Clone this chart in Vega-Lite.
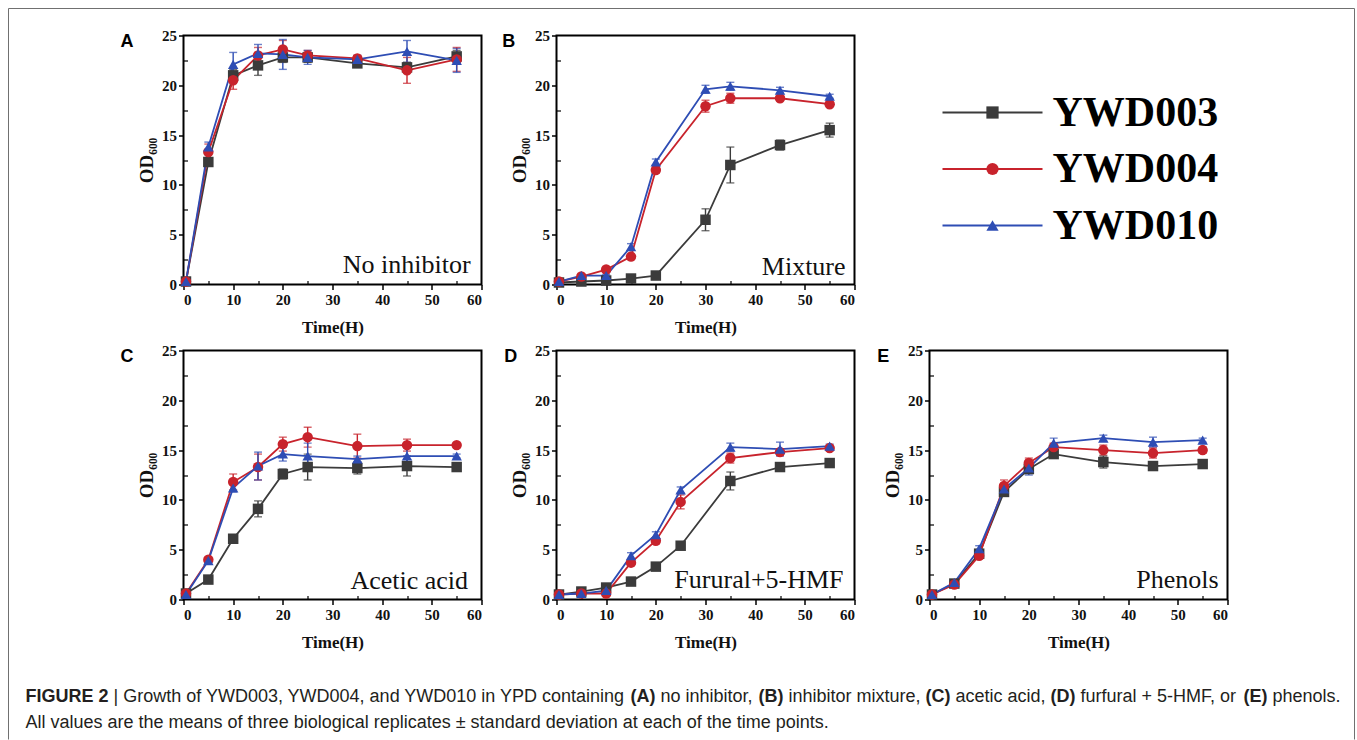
{
  "$schema": "https://vega.github.io/schema/vega-lite/v6.json",
  "padding": {"left": 7.5, "top": 7.5, "right": 0, "bottom": 0},
  "background": "#ffffff",
  "datasets": {
    "growth": [
      {"panel":"A","strain":"YWD003","t":0.5,"od":0.3,"sd":0.1},
      {"panel":"A","strain":"YWD003","t":5,"od":12.3,"sd":0.3},
      {"panel":"A","strain":"YWD003","t":10,"od":21.0,"sd":0.6},
      {"panel":"A","strain":"YWD003","t":15,"od":22.0,"sd":1.0},
      {"panel":"A","strain":"YWD003","t":20,"od":22.8,"sd":0.5},
      {"panel":"A","strain":"YWD003","t":25,"od":22.8,"sd":0.5},
      {"panel":"A","strain":"YWD003","t":35,"od":22.2,"sd":0.3},
      {"panel":"A","strain":"YWD003","t":45,"od":21.8,"sd":0.5},
      {"panel":"A","strain":"YWD003","t":55,"od":22.9,"sd":0.6},
      {"panel":"A","strain":"YWD004","t":0.5,"od":0.3,"sd":0.1},
      {"panel":"A","strain":"YWD004","t":5,"od":13.3,"sd":0.8},
      {"panel":"A","strain":"YWD004","t":10,"od":20.5,"sd":0.9},
      {"panel":"A","strain":"YWD004","t":15,"od":23.0,"sd":0.8},
      {"panel":"A","strain":"YWD004","t":20,"od":23.6,"sd":0.9},
      {"panel":"A","strain":"YWD004","t":25,"od":23.0,"sd":0.5},
      {"panel":"A","strain":"YWD004","t":35,"od":22.7,"sd":0.3},
      {"panel":"A","strain":"YWD004","t":45,"od":21.5,"sd":1.3},
      {"panel":"A","strain":"YWD004","t":55,"od":22.6,"sd":1.2},
      {"panel":"A","strain":"YWD010","t":0.5,"od":0.3,"sd":0.1},
      {"panel":"A","strain":"YWD010","t":5,"od":13.8,"sd":0.5},
      {"panel":"A","strain":"YWD010","t":10,"od":22.1,"sd":1.2},
      {"panel":"A","strain":"YWD010","t":15,"od":23.2,"sd":0.9},
      {"panel":"A","strain":"YWD010","t":20,"od":23.1,"sd":1.5},
      {"panel":"A","strain":"YWD010","t":25,"od":22.8,"sd":0.7},
      {"panel":"A","strain":"YWD010","t":35,"od":22.6,"sd":0.4},
      {"panel":"A","strain":"YWD010","t":45,"od":23.4,"sd":1.1},
      {"panel":"A","strain":"YWD010","t":55,"od":22.5,"sd":1.2},

      {"panel":"B","strain":"YWD003","t":0.5,"od":0.2,"sd":0.05},
      {"panel":"B","strain":"YWD003","t":5,"od":0.3,"sd":0.1},
      {"panel":"B","strain":"YWD003","t":10,"od":0.4,"sd":0.1},
      {"panel":"B","strain":"YWD003","t":15,"od":0.6,"sd":0.1},
      {"panel":"B","strain":"YWD003","t":20,"od":0.9,"sd":0.1},
      {"panel":"B","strain":"YWD003","t":30,"od":6.5,"sd":1.1},
      {"panel":"B","strain":"YWD003","t":35,"od":12.0,"sd":1.8},
      {"panel":"B","strain":"YWD003","t":45,"od":14.0,"sd":0.5},
      {"panel":"B","strain":"YWD003","t":55,"od":15.5,"sd":0.7},
      {"panel":"B","strain":"YWD004","t":0.5,"od":0.3,"sd":0.1},
      {"panel":"B","strain":"YWD004","t":5,"od":0.8,"sd":0.1},
      {"panel":"B","strain":"YWD004","t":10,"od":1.5,"sd":0.1},
      {"panel":"B","strain":"YWD004","t":15,"od":2.8,"sd":0.2},
      {"panel":"B","strain":"YWD004","t":20,"od":11.5,"sd":0.3},
      {"panel":"B","strain":"YWD004","t":30,"od":17.9,"sd":0.6},
      {"panel":"B","strain":"YWD004","t":35,"od":18.7,"sd":0.5},
      {"panel":"B","strain":"YWD004","t":45,"od":18.7,"sd":0.2},
      {"panel":"B","strain":"YWD004","t":55,"od":18.1,"sd":0.2},
      {"panel":"B","strain":"YWD010","t":0.5,"od":0.3,"sd":0.1},
      {"panel":"B","strain":"YWD010","t":5,"od":0.9,"sd":0.1},
      {"panel":"B","strain":"YWD010","t":10,"od":0.9,"sd":0.1},
      {"panel":"B","strain":"YWD010","t":15,"od":3.8,"sd":0.3},
      {"panel":"B","strain":"YWD010","t":20,"od":12.3,"sd":0.3},
      {"panel":"B","strain":"YWD010","t":30,"od":19.6,"sd":0.4},
      {"panel":"B","strain":"YWD010","t":35,"od":19.9,"sd":0.4},
      {"panel":"B","strain":"YWD010","t":45,"od":19.5,"sd":0.3},
      {"panel":"B","strain":"YWD010","t":55,"od":18.9,"sd":0.2},

      {"panel":"C","strain":"YWD003","t":0.5,"od":0.6,"sd":0.1},
      {"panel":"C","strain":"YWD003","t":5,"od":2.0,"sd":0.2},
      {"panel":"C","strain":"YWD003","t":10,"od":6.1,"sd":0.3},
      {"panel":"C","strain":"YWD003","t":15,"od":9.1,"sd":0.8},
      {"panel":"C","strain":"YWD003","t":20,"od":12.6,"sd":0.5},
      {"panel":"C","strain":"YWD003","t":25,"od":13.3,"sd":1.3},
      {"panel":"C","strain":"YWD003","t":35,"od":13.2,"sd":0.6},
      {"panel":"C","strain":"YWD003","t":45,"od":13.4,"sd":1.0},
      {"panel":"C","strain":"YWD003","t":55,"od":13.3,"sd":0.4},
      {"panel":"C","strain":"YWD004","t":0.5,"od":0.6,"sd":0.1},
      {"panel":"C","strain":"YWD004","t":5,"od":4.0,"sd":0.2},
      {"panel":"C","strain":"YWD004","t":10,"od":11.8,"sd":0.8},
      {"panel":"C","strain":"YWD004","t":15,"od":13.3,"sd":1.3},
      {"panel":"C","strain":"YWD004","t":20,"od":15.6,"sd":0.7},
      {"panel":"C","strain":"YWD004","t":25,"od":16.3,"sd":1.0},
      {"panel":"C","strain":"YWD004","t":35,"od":15.4,"sd":1.2},
      {"panel":"C","strain":"YWD004","t":45,"od":15.5,"sd":0.6},
      {"panel":"C","strain":"YWD004","t":55,"od":15.5,"sd":0.2},
      {"panel":"C","strain":"YWD010","t":0.5,"od":0.5,"sd":0.1},
      {"panel":"C","strain":"YWD010","t":5,"od":3.9,"sd":0.2},
      {"panel":"C","strain":"YWD010","t":10,"od":11.2,"sd":0.4},
      {"panel":"C","strain":"YWD010","t":15,"od":13.4,"sd":1.4},
      {"panel":"C","strain":"YWD010","t":20,"od":14.6,"sd":0.7},
      {"panel":"C","strain":"YWD010","t":25,"od":14.4,"sd":1.3},
      {"panel":"C","strain":"YWD010","t":35,"od":14.1,"sd":0.3},
      {"panel":"C","strain":"YWD010","t":45,"od":14.4,"sd":0.9},
      {"panel":"C","strain":"YWD010","t":55,"od":14.4,"sd":0.2},

      {"panel":"D","strain":"YWD003","t":0.5,"od":0.5,"sd":0.1},
      {"panel":"D","strain":"YWD003","t":5,"od":0.8,"sd":0.1},
      {"panel":"D","strain":"YWD003","t":10,"od":1.2,"sd":0.1},
      {"panel":"D","strain":"YWD003","t":15,"od":1.8,"sd":0.2},
      {"panel":"D","strain":"YWD003","t":20,"od":3.3,"sd":0.3},
      {"panel":"D","strain":"YWD003","t":25,"od":5.4,"sd":0.3},
      {"panel":"D","strain":"YWD003","t":35,"od":11.9,"sd":0.9},
      {"panel":"D","strain":"YWD003","t":45,"od":13.3,"sd":0.3},
      {"panel":"D","strain":"YWD003","t":55,"od":13.7,"sd":0.2},
      {"panel":"D","strain":"YWD004","t":0.5,"od":0.5,"sd":0.1},
      {"panel":"D","strain":"YWD004","t":5,"od":0.6,"sd":0.1},
      {"panel":"D","strain":"YWD004","t":10,"od":0.6,"sd":0.1},
      {"panel":"D","strain":"YWD004","t":15,"od":3.7,"sd":0.3},
      {"panel":"D","strain":"YWD004","t":20,"od":5.9,"sd":0.3},
      {"panel":"D","strain":"YWD004","t":25,"od":9.8,"sd":0.7},
      {"panel":"D","strain":"YWD004","t":35,"od":14.2,"sd":0.5},
      {"panel":"D","strain":"YWD004","t":45,"od":14.8,"sd":0.3},
      {"panel":"D","strain":"YWD004","t":55,"od":15.2,"sd":0.2},
      {"panel":"D","strain":"YWD010","t":0.5,"od":0.5,"sd":0.1},
      {"panel":"D","strain":"YWD010","t":5,"od":0.6,"sd":0.1},
      {"panel":"D","strain":"YWD010","t":10,"od":0.9,"sd":0.1},
      {"panel":"D","strain":"YWD010","t":15,"od":4.4,"sd":0.3},
      {"panel":"D","strain":"YWD010","t":20,"od":6.5,"sd":0.3},
      {"panel":"D","strain":"YWD010","t":25,"od":11.0,"sd":0.3},
      {"panel":"D","strain":"YWD010","t":35,"od":15.3,"sd":0.4},
      {"panel":"D","strain":"YWD010","t":45,"od":15.1,"sd":0.7},
      {"panel":"D","strain":"YWD010","t":55,"od":15.4,"sd":0.2},

      {"panel":"E","strain":"YWD003","t":0.5,"od":0.5,"sd":0.1},
      {"panel":"E","strain":"YWD003","t":5,"od":1.6,"sd":0.1},
      {"panel":"E","strain":"YWD003","t":10,"od":4.6,"sd":0.3},
      {"panel":"E","strain":"YWD003","t":15,"od":10.8,"sd":0.3},
      {"panel":"E","strain":"YWD003","t":20,"od":13.1,"sd":0.4},
      {"panel":"E","strain":"YWD003","t":25,"od":14.6,"sd":0.3},
      {"panel":"E","strain":"YWD003","t":35,"od":13.8,"sd":0.6},
      {"panel":"E","strain":"YWD003","t":45,"od":13.4,"sd":0.4},
      {"panel":"E","strain":"YWD003","t":55,"od":13.6,"sd":0.2},
      {"panel":"E","strain":"YWD004","t":0.5,"od":0.5,"sd":0.1},
      {"panel":"E","strain":"YWD004","t":5,"od":1.5,"sd":0.1},
      {"panel":"E","strain":"YWD004","t":10,"od":4.4,"sd":0.3},
      {"panel":"E","strain":"YWD004","t":15,"od":11.4,"sd":0.6},
      {"panel":"E","strain":"YWD004","t":20,"od":13.7,"sd":0.5},
      {"panel":"E","strain":"YWD004","t":25,"od":15.3,"sd":0.4},
      {"panel":"E","strain":"YWD004","t":35,"od":15.0,"sd":0.5},
      {"panel":"E","strain":"YWD004","t":45,"od":14.7,"sd":0.5},
      {"panel":"E","strain":"YWD004","t":55,"od":15.0,"sd":0.3},
      {"panel":"E","strain":"YWD010","t":0.5,"od":0.5,"sd":0.1},
      {"panel":"E","strain":"YWD010","t":5,"od":1.7,"sd":0.2},
      {"panel":"E","strain":"YWD010","t":10,"od":5.1,"sd":0.3},
      {"panel":"E","strain":"YWD010","t":15,"od":11.1,"sd":0.3},
      {"panel":"E","strain":"YWD010","t":20,"od":13.2,"sd":0.7},
      {"panel":"E","strain":"YWD010","t":25,"od":15.7,"sd":0.5},
      {"panel":"E","strain":"YWD010","t":35,"od":16.2,"sd":0.3},
      {"panel":"E","strain":"YWD010","t":45,"od":15.8,"sd":0.5},
      {"panel":"E","strain":"YWD010","t":55,"od":16.0,"sd":0.2}
    ]
  },
  "columns": 3,
  "bounds": "flush",
  "spacing": {"column": 75, "row": 66},
  "resolve": {"scale": {"x": "independent", "y": "independent"}},
  "concat": [
    {
      "width": 298, "height": 249,
      "resolve": {"axis": {"x": "independent", "y": "independent"}},
      "layer": [
        {
          "data": {"name": "growth"}, "transform": [{"filter": "datum.panel === 'A'"}],
          "encoding": {
            "x": {"field": "t", "type": "quantitative", "scale": {"domain": [0, 60], "nice": false}, "axis": {"orient": "bottom"}, "title": "Time(H)"},
            "y": {"field": "od", "type": "quantitative", "scale": {"domain": [0, 25], "nice": false}, "axis": {"orient": "left"}, "title": "OD₆₀₀"},
            "color": {"field": "strain", "type": "nominal"}
          },
          "layer": [
            {"mark": {"type": "errorbar", "ticks": {"size": 8}, "thickness": 1.4}, "encoding": {"yError": {"field": "sd"}}},
            {"mark": {"type": "line", "strokeWidth": 1.8}},
            {"mark": {"type": "point", "filled": true, "opacity": 1, "size": 110}, "encoding": {"shape": {"field": "strain", "type": "nominal"}}}
          ]
        },
        {"data": {"values": [{}]}, "mark": {"type": "point", "opacity": 0}, "encoding": {"x": {"datum": 0, "type": "quantitative", "axis": {"orient": "bottom", "values": [5, 15, 25, 35, 45, 55], "labels": false, "title": null, "tickSize": -4, "tickWidth": 1.2}}, "y": {"datum": 0, "type": "quantitative", "axis": {"orient": "left", "values": [2.5, 7.5, 12.5, 17.5, 22.5], "labels": false, "title": null, "tickSize": -4, "tickWidth": 1.2}}}},
        {"data": {"values": [{}]}, "mark": {"type": "text", "align": "right", "baseline": "alphabetic", "font": "Liberation Serif", "fontSize": 26, "color": "#111111"}, "encoding": {"x": {"datum": 57.8, "type": "quantitative", "axis": null}, "y": {"datum": 1.2, "type": "quantitative", "axis": null}, "text": {"value": "No inhibitor"}}},
        {"data": {"values": [{}]}, "mark": {"type": "text", "align": "left", "baseline": "alphabetic", "font": "Liberation Sans", "fontWeight": "bold", "fontSize": 18, "color": "#000000"}, "encoding": {"x": {"datum": -12.7, "type": "quantitative", "axis": null}, "y": {"datum": 23.8, "type": "quantitative", "axis": null}, "text": {"value": "A"}}}
      ]
    },
    {
      "width": 298, "height": 249,
      "resolve": {"axis": {"x": "independent", "y": "independent"}},
      "layer": [
        {
          "data": {"name": "growth"}, "transform": [{"filter": "datum.panel === 'B'"}],
          "encoding": {
            "x": {"field": "t", "type": "quantitative", "scale": {"domain": [0, 60], "nice": false}, "axis": {"orient": "bottom"}, "title": "Time(H)"},
            "y": {"field": "od", "type": "quantitative", "scale": {"domain": [0, 25], "nice": false}, "axis": {"orient": "left"}, "title": "OD₆₀₀"},
            "color": {"field": "strain", "type": "nominal"}
          },
          "layer": [
            {"mark": {"type": "errorbar", "ticks": {"size": 8}, "thickness": 1.4}, "encoding": {"yError": {"field": "sd"}}},
            {"mark": {"type": "line", "strokeWidth": 1.8}},
            {"mark": {"type": "point", "filled": true, "opacity": 1, "size": 110}, "encoding": {"shape": {"field": "strain", "type": "nominal"}}}
          ]
        },
        {"data": {"values": [{}]}, "mark": {"type": "point", "opacity": 0}, "encoding": {"x": {"datum": 0, "type": "quantitative", "axis": {"orient": "bottom", "values": [5, 15, 25, 35, 45, 55], "labels": false, "title": null, "tickSize": -4, "tickWidth": 1.2}}, "y": {"datum": 0, "type": "quantitative", "axis": {"orient": "left", "values": [2.5, 7.5, 12.5, 17.5, 22.5], "labels": false, "title": null, "tickSize": -4, "tickWidth": 1.2}}}},
        {"data": {"values": [{}]}, "mark": {"type": "text", "align": "right", "baseline": "alphabetic", "font": "Liberation Serif", "fontSize": 26, "color": "#111111"}, "encoding": {"x": {"datum": 58.2, "type": "quantitative", "axis": null}, "y": {"datum": 1.0, "type": "quantitative", "axis": null}, "text": {"value": "Mixture"}}},
        {"data": {"values": [{}]}, "mark": {"type": "text", "align": "left", "baseline": "alphabetic", "font": "Liberation Sans", "fontWeight": "bold", "fontSize": 18, "color": "#000000"}, "encoding": {"x": {"datum": -10.9, "type": "quantitative", "axis": null}, "y": {"datum": 23.8, "type": "quantitative", "axis": null}, "text": {"value": "B"}}}
      ]
    },
    {
      "width": 298, "height": 249,
      "view": {"stroke": null},
      "data": {"values": [{"strain": "YWD003"}, {"strain": "YWD004"}, {"strain": "YWD010"}]},
      "encoding": {
        "y": {"field": "strain", "type": "nominal", "scale": {"type": "point", "range": [77, 190], "padding": 0}, "axis": null},
        "color": {"field": "strain", "type": "nominal"}
      },
      "layer": [
        {"mark": {"type": "rule", "strokeWidth": 2.2}, "encoding": {"x": {"datum": 13, "type": "quantitative", "scale": {"domain": [0, 298], "nice": false, "zero": false}, "axis": null}, "x2": {"datum": 113}}},
        {"mark": {"type": "point", "filled": true, "opacity": 1, "size": 150}, "encoding": {"x": {"datum": 63, "type": "quantitative", "axis": null}, "shape": {"field": "strain", "type": "nominal"}}},
        {"mark": {"type": "text", "align": "left", "baseline": "middle", "font": "Liberation Serif", "fontWeight": "bold", "fontSize": 42}, "encoding": {"x": {"datum": 123, "type": "quantitative", "axis": null}, "text": {"field": "strain"}, "color": {"value": "#000000"}}}
      ]
    },
    {
      "width": 298, "height": 249,
      "resolve": {"axis": {"x": "independent", "y": "independent"}},
      "layer": [
        {
          "data": {"name": "growth"}, "transform": [{"filter": "datum.panel === 'C'"}],
          "encoding": {
            "x": {"field": "t", "type": "quantitative", "scale": {"domain": [0, 60], "nice": false}, "axis": {"orient": "bottom"}, "title": "Time(H)"},
            "y": {"field": "od", "type": "quantitative", "scale": {"domain": [0, 25], "nice": false}, "axis": {"orient": "left"}, "title": "OD₆₀₀"},
            "color": {"field": "strain", "type": "nominal"}
          },
          "layer": [
            {"mark": {"type": "errorbar", "ticks": {"size": 8}, "thickness": 1.4}, "encoding": {"yError": {"field": "sd"}}},
            {"mark": {"type": "line", "strokeWidth": 1.8}},
            {"mark": {"type": "point", "filled": true, "opacity": 1, "size": 110}, "encoding": {"shape": {"field": "strain", "type": "nominal"}}}
          ]
        },
        {"data": {"values": [{}]}, "mark": {"type": "point", "opacity": 0}, "encoding": {"x": {"datum": 0, "type": "quantitative", "axis": {"orient": "bottom", "values": [5, 15, 25, 35, 45, 55], "labels": false, "title": null, "tickSize": -4, "tickWidth": 1.2}}, "y": {"datum": 0, "type": "quantitative", "axis": {"orient": "left", "values": [2.5, 7.5, 12.5, 17.5, 22.5], "labels": false, "title": null, "tickSize": -4, "tickWidth": 1.2}}}},
        {"data": {"values": [{}]}, "mark": {"type": "text", "align": "right", "baseline": "alphabetic", "font": "Liberation Serif", "fontSize": 26, "color": "#111111"}, "encoding": {"x": {"datum": 57.3, "type": "quantitative", "axis": null}, "y": {"datum": 1.1, "type": "quantitative", "axis": null}, "text": {"value": "Acetic acid"}}},
        {"data": {"values": [{}]}, "mark": {"type": "text", "align": "left", "baseline": "alphabetic", "font": "Liberation Sans", "fontWeight": "bold", "fontSize": 18, "color": "#000000"}, "encoding": {"x": {"datum": -12.7, "type": "quantitative", "axis": null}, "y": {"datum": 23.8, "type": "quantitative", "axis": null}, "text": {"value": "C"}}}
      ]
    },
    {
      "width": 298, "height": 249,
      "resolve": {"axis": {"x": "independent", "y": "independent"}},
      "layer": [
        {
          "data": {"name": "growth"}, "transform": [{"filter": "datum.panel === 'D'"}],
          "encoding": {
            "x": {"field": "t", "type": "quantitative", "scale": {"domain": [0, 60], "nice": false}, "axis": {"orient": "bottom"}, "title": "Time(H)"},
            "y": {"field": "od", "type": "quantitative", "scale": {"domain": [0, 25], "nice": false}, "axis": {"orient": "left"}, "title": "OD₆₀₀"},
            "color": {"field": "strain", "type": "nominal"}
          },
          "layer": [
            {"mark": {"type": "errorbar", "ticks": {"size": 8}, "thickness": 1.4}, "encoding": {"yError": {"field": "sd"}}},
            {"mark": {"type": "line", "strokeWidth": 1.8}},
            {"mark": {"type": "point", "filled": true, "opacity": 1, "size": 110}, "encoding": {"shape": {"field": "strain", "type": "nominal"}}}
          ]
        },
        {"data": {"values": [{}]}, "mark": {"type": "point", "opacity": 0}, "encoding": {"x": {"datum": 0, "type": "quantitative", "axis": {"orient": "bottom", "values": [5, 15, 25, 35, 45, 55], "labels": false, "title": null, "tickSize": -4, "tickWidth": 1.2}}, "y": {"datum": 0, "type": "quantitative", "axis": {"orient": "left", "values": [2.5, 7.5, 12.5, 17.5, 22.5], "labels": false, "title": null, "tickSize": -4, "tickWidth": 1.2}}}},
        {"data": {"values": [{}]}, "mark": {"type": "text", "align": "right", "baseline": "alphabetic", "font": "Liberation Serif", "fontSize": 26, "color": "#111111"}, "encoding": {"x": {"datum": 57.8, "type": "quantitative", "axis": null}, "y": {"datum": 1.2, "type": "quantitative", "axis": null}, "text": {"value": "Furural+5-HMF"}}},
        {"data": {"values": [{}]}, "mark": {"type": "text", "align": "left", "baseline": "alphabetic", "font": "Liberation Sans", "fontWeight": "bold", "fontSize": 18, "color": "#000000"}, "encoding": {"x": {"datum": -10.5, "type": "quantitative", "axis": null}, "y": {"datum": 23.8, "type": "quantitative", "axis": null}, "text": {"value": "D"}}}
      ]
    },
    {
      "width": 298, "height": 249,
      "resolve": {"axis": {"x": "independent", "y": "independent"}},
      "layer": [
        {
          "data": {"name": "growth"}, "transform": [{"filter": "datum.panel === 'E'"}],
          "encoding": {
            "x": {"field": "t", "type": "quantitative", "scale": {"domain": [0, 60], "nice": false}, "axis": {"orient": "bottom"}, "title": "Time(H)"},
            "y": {"field": "od", "type": "quantitative", "scale": {"domain": [0, 25], "nice": false}, "axis": {"orient": "left"}, "title": "OD₆₀₀"},
            "color": {"field": "strain", "type": "nominal"}
          },
          "layer": [
            {"mark": {"type": "errorbar", "ticks": {"size": 8}, "thickness": 1.4}, "encoding": {"yError": {"field": "sd"}}},
            {"mark": {"type": "line", "strokeWidth": 1.8}},
            {"mark": {"type": "point", "filled": true, "opacity": 1, "size": 110}, "encoding": {"shape": {"field": "strain", "type": "nominal"}}}
          ]
        },
        {"data": {"values": [{}]}, "mark": {"type": "point", "opacity": 0}, "encoding": {"x": {"datum": 0, "type": "quantitative", "axis": {"orient": "bottom", "values": [5, 15, 25, 35, 45, 55], "labels": false, "title": null, "tickSize": -4, "tickWidth": 1.2}}, "y": {"datum": 0, "type": "quantitative", "axis": {"orient": "left", "values": [2.5, 7.5, 12.5, 17.5, 22.5], "labels": false, "title": null, "tickSize": -4, "tickWidth": 1.2}}}},
        {"data": {"values": [{}]}, "mark": {"type": "text", "align": "right", "baseline": "alphabetic", "font": "Liberation Serif", "fontSize": 26, "color": "#111111"}, "encoding": {"x": {"datum": 58.2, "type": "quantitative", "axis": null}, "y": {"datum": 1.2, "type": "quantitative", "axis": null}, "text": {"value": "Phenols"}}},
        {"data": {"values": [{}]}, "mark": {"type": "text", "align": "left", "baseline": "alphabetic", "font": "Liberation Sans", "fontWeight": "bold", "fontSize": 18, "color": "#000000"}, "encoding": {"x": {"datum": -10.5, "type": "quantitative", "axis": null}, "y": {"datum": 23.8, "type": "quantitative", "axis": null}, "text": {"value": "E"}}}
      ]
    },
    {
      "width": 298, "height": 60,
      "view": {"stroke": null},
      "data": {"values": [{}]},
      "layer": [
        {"mark": {"type": "rule", "strokeWidth": 1, "color": "#707070"}, "encoding": {"x": {"datum": -175, "type": "quantitative", "scale": {"domain": [0, 298], "nice": false, "zero": false}, "axis": null}, "y": {"datum": -657, "type": "quantitative", "scale": {"domain": [0, 60], "reverse": true, "nice": false, "zero": false}, "axis": null}, "y2": {"datum": 74}}},
        {"mark": {"type": "rule", "strokeWidth": 1, "color": "#707070"}, "encoding": {"x": {"datum": -175, "type": "quantitative", "axis": null}, "x2": {"datum": 1171}, "y": {"datum": -657, "type": "quantitative", "axis": null}}},
        {"mark": {"type": "rule", "strokeWidth": 1, "color": "#707070"}, "encoding": {"x": {"datum": 1171, "type": "quantitative", "axis": null}, "y": {"datum": -657, "type": "quantitative", "axis": null}, "y2": {"datum": 74}}},
        {"mark": {"type": "text", "align": "left", "baseline": "middle", "font": "Liberation Sans", "fontSize": 18, "fontWeight": "bold", "color": "#231f20"}, "encoding": {"x": {"datum": -158, "type": "quantitative", "axis": null}, "y": {"datum": 31, "type": "quantitative", "axis": null}, "text": {"value": "FIGURE 2"}}},
        {"mark": {"type": "text", "align": "left", "baseline": "middle", "font": "Liberation Sans", "fontSize": 18, "color": "#231f20"}, "encoding": {"x": {"datum": -70, "type": "quantitative", "axis": null}, "y": {"datum": 31, "type": "quantitative", "axis": null}, "text": {"value": "| Growth of YWD003, YWD004, and YWD010 in YPD containing"}}},
        {"mark": {"type": "text", "align": "left", "baseline": "middle", "font": "Liberation Sans", "fontSize": 18, "fontWeight": "bold", "color": "#231f20"}, "encoding": {"x": {"datum": 447, "type": "quantitative", "axis": null}, "y": {"datum": 31, "type": "quantitative", "axis": null}, "text": {"value": "(A)"}}},
        {"mark": {"type": "text", "align": "left", "baseline": "middle", "font": "Liberation Sans", "fontSize": 18, "color": "#231f20"}, "encoding": {"x": {"datum": 477, "type": "quantitative", "axis": null}, "y": {"datum": 31, "type": "quantitative", "axis": null}, "text": {"value": "no inhibitor,"}}},
        {"mark": {"type": "text", "align": "left", "baseline": "middle", "font": "Liberation Sans", "fontSize": 18, "fontWeight": "bold", "color": "#231f20"}, "encoding": {"x": {"datum": 575, "type": "quantitative", "axis": null}, "y": {"datum": 31, "type": "quantitative", "axis": null}, "text": {"value": "(B)"}}},
        {"mark": {"type": "text", "align": "left", "baseline": "middle", "font": "Liberation Sans", "fontSize": 18, "color": "#231f20"}, "encoding": {"x": {"datum": 605, "type": "quantitative", "axis": null}, "y": {"datum": 31, "type": "quantitative", "axis": null}, "text": {"value": "inhibitor mixture,"}}},
        {"mark": {"type": "text", "align": "left", "baseline": "middle", "font": "Liberation Sans", "fontSize": 18, "fontWeight": "bold", "color": "#231f20"}, "encoding": {"x": {"datum": 742, "type": "quantitative", "axis": null}, "y": {"datum": 31, "type": "quantitative", "axis": null}, "text": {"value": "(C)"}}},
        {"mark": {"type": "text", "align": "left", "baseline": "middle", "font": "Liberation Sans", "fontSize": 18, "color": "#231f20"}, "encoding": {"x": {"datum": 772, "type": "quantitative", "axis": null}, "y": {"datum": 31, "type": "quantitative", "axis": null}, "text": {"value": "acetic acid,"}}},
        {"mark": {"type": "text", "align": "left", "baseline": "middle", "font": "Liberation Sans", "fontSize": 18, "fontWeight": "bold", "color": "#231f20"}, "encoding": {"x": {"datum": 867, "type": "quantitative", "axis": null}, "y": {"datum": 31, "type": "quantitative", "axis": null}, "text": {"value": "(D)"}}},
        {"mark": {"type": "text", "align": "left", "baseline": "middle", "font": "Liberation Sans", "fontSize": 18, "color": "#231f20"}, "encoding": {"x": {"datum": 897, "type": "quantitative", "axis": null}, "y": {"datum": 31, "type": "quantitative", "axis": null}, "text": {"value": "furfural + 5-HMF, or"}}},
        {"mark": {"type": "text", "align": "left", "baseline": "middle", "font": "Liberation Sans", "fontSize": 18, "fontWeight": "bold", "color": "#231f20"}, "encoding": {"x": {"datum": 1060, "type": "quantitative", "axis": null}, "y": {"datum": 31, "type": "quantitative", "axis": null}, "text": {"value": "(E)"}}},
        {"mark": {"type": "text", "align": "left", "baseline": "middle", "font": "Liberation Sans", "fontSize": 18, "color": "#231f20"}, "encoding": {"x": {"datum": 1089, "type": "quantitative", "axis": null}, "y": {"datum": 31, "type": "quantitative", "axis": null}, "text": {"value": "phenols."}}},
        {"mark": {"type": "text", "align": "left", "baseline": "middle", "font": "Liberation Sans", "fontSize": 18, "color": "#231f20"}, "encoding": {"x": {"datum": -158, "type": "quantitative", "axis": null}, "y": {"datum": 57, "type": "quantitative", "axis": null}, "text": {"value": "All values are the means of three biological replicates ± standard deviation at each of the time points."}}}
      ]
    }
  ],
  "config": {
    "view": {"stroke": "#000000", "strokeWidth": 2},
    "legend": {"disable": true},
    "range": {"category": ["#3b3b3b", "#c8232c", "#2e4db4"], "symbol": ["square", "circle", "triangle-up"]},
    "axis": {
      "grid": false, "domain": false,
      "tickColor": "#000000", "tickWidth": 1.5, "tickSize": 5,
      "labelFont": "Liberation Serif", "labelFontWeight": "bold", "labelFontSize": 15, "labelColor": "#111111",
      "titleFont": "Liberation Serif", "titleFontWeight": "bold", "titleFontSize": 17, "titleColor": "#111111"
    },
    "axisX": {"values": [0, 10, 20, 30, 40, 50, 60], "titlePadding": 12, "labelPadding": 3},
    "axisY": {"values": [0, 5, 10, 15, 20, 25], "titleFontSize": 19, "titlePadding": 5, "labelPadding": 2}
  }
}
